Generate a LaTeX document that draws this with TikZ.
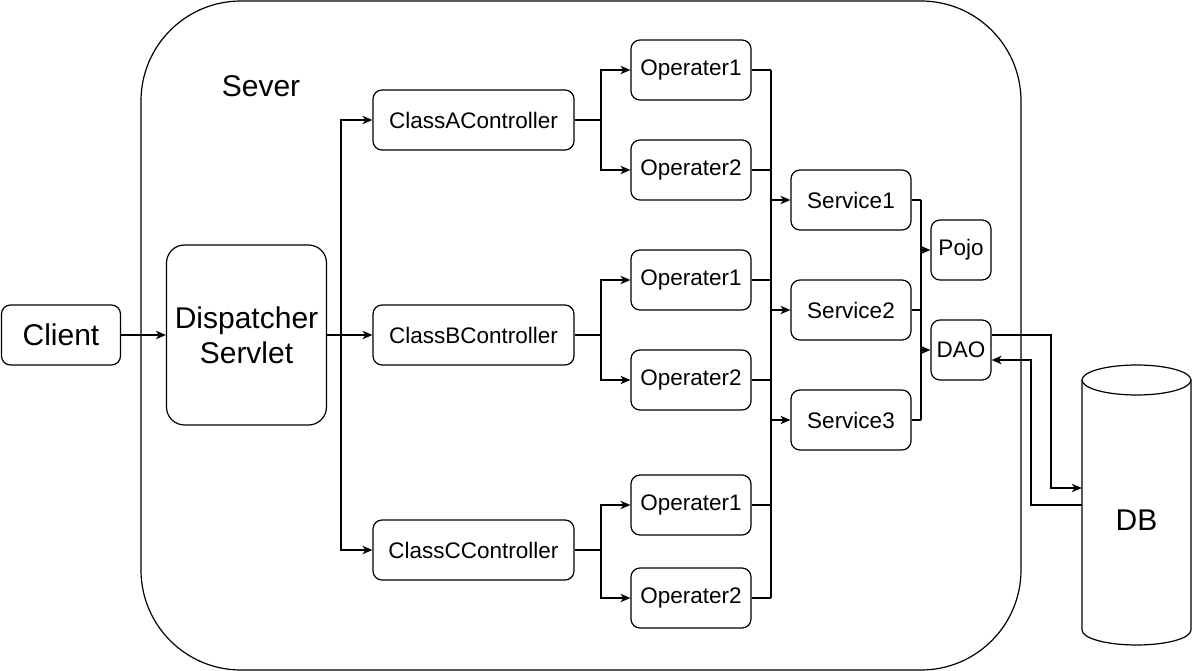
\documentclass[tikz,border=0pt]{standalone}
\usepackage{fontspec}
\setmainfont{Liberation Sans}
\usetikzlibrary{arrows.meta,calc}
\tikzset{
  box/.style={draw, rounded corners=9pt, line width=1.2pt, inner sep=0pt, align=center,
    font=\fontsize{22.5}{27}\selectfont, minimum height=60pt},
  bigbox/.style={box, font=\fontsize{30}{35}\selectfont},
  ctrl/.style={box, minimum width=201pt},
  oper/.style={box, minimum width=120pt},
  svc/.style={box, minimum width=120pt},
  small/.style={box, minimum width=60pt},
  conn/.style={line width=1.2pt},
  arr/.style={line width=1.2pt, -{Stealth[length=10pt,width=8.5pt,inset=3pt]}},
}
\begin{document}
\begin{tikzpicture}[x=1pt,y=-1pt]
\useasboundingbox (0,0) rectangle (1192,671);
% server container
\draw[line width=1.2pt, rounded corners=100pt] (141,1) rectangle (1021,670);
\node[font=\fontsize{30}{35}\selectfont] (sever) at (261,86) {Sever};

% nodes
\node[bigbox, minimum width=119pt] (client) at (61,335) {Client};
\node[bigbox, minimum width=160pt, minimum height=180pt, rounded corners=18pt] (disp) at (246.5,335) {Dispatcher\\Servlet};

\node[ctrl] (cA) at (473.5,120) {ClassAController};
\node[ctrl] (cB) at (473.5,335) {ClassBController};
\node[ctrl] (cC) at (473.5,550) {ClassCController};

\node[oper] (oA1) at (691,70) {Operater1};
\node[oper] (oA2) at (691,170) {Operater2};
\node[oper] (oB1) at (691,280) {Operater1};
\node[oper] (oB2) at (691,380) {Operater2};
\node[oper] (oC1) at (691,505) {Operater1};
\node[oper] (oC2) at (691,598) {Operater2};

\node[svc] (s1) at (851,200) {Service1};
\node[svc] (s2) at (851,310) {Service2};
\node[svc] (s3) at (851,420) {Service3};

\node[small] (pojo) at (961,250) {Pojo};
\node[small] (dao) at (961,350) {DAO};

% DB cylinder
\draw[line width=1.2pt, fill=white] (1082,380) -- (1082,630)
  arc[start angle=180, end angle=0, x radius=54.5, y radius=15] -- (1191,380);
\draw[line width=1.2pt] (1136.5,380) ellipse[x radius=54.5, y radius=15];
\node[font=\fontsize{30}{35}\selectfont, minimum width=109pt, inner sep=0pt] (db) at (1136.5,520) {DB};

% junction coordinates
\coordinate (jd) at (341,335);
\coordinate (jc) at (601,0);
\coordinate (bus) at (771,0);
\coordinate (rbus) at (921,0);

% client -> dispatcher
\draw[arr] (client) -- (disp);
% dispatcher -> controllers
\draw[arr] (disp.east) -- (cB.west);
\draw[arr] (jd) |- (cA.west);
\draw[arr] (jd) |- (cC.west);

% controllers -> operaters
\foreach \c/\a/\b in {cA/oA1/oA2, cB/oB1/oB2, cC/oC1/oC2}{
  \draw[conn] (\c.east) -- (\c.east -| jc);
  \draw[arr] (\c.east -| jc) |- (\a.west);
  \draw[arr] (\c.east -| jc) |- (\b.west);
}

% operaters -> bus -> services
\foreach \o in {oA1,oA2,oB1,oB2,oC1,oC2}{
  \draw[conn] (\o.east) -- (\o.east -| bus);
}
\draw[conn] (oA1.east -| bus) -- (oC2.east -| bus);
\foreach \s in {s1,s2,s3}{
  \draw[arr] (\s.west -| bus) -- (\s.west);
}

% services -> pojo / dao
\foreach \s in {s1,s2,s3}{
  \draw[conn] (\s.east) -- (\s.east -| rbus);
}
\draw[conn] (s1.east -| rbus) -- (s3.east -| rbus);
\draw[arr] (pojo.west -| rbus) -- (pojo.west);
\draw[arr] (dao.west -| rbus) -- (dao.west);

% dao <-> db
\draw[arr] ([yshift=15pt]dao.east) -| (1051,488) -- ([yshift=32pt]db.west);
\draw[arr] ([yshift=15pt]db.west) -| (1031,360) -- ([yshift=-10pt]dao.east);
\end{tikzpicture}
\end{document}
